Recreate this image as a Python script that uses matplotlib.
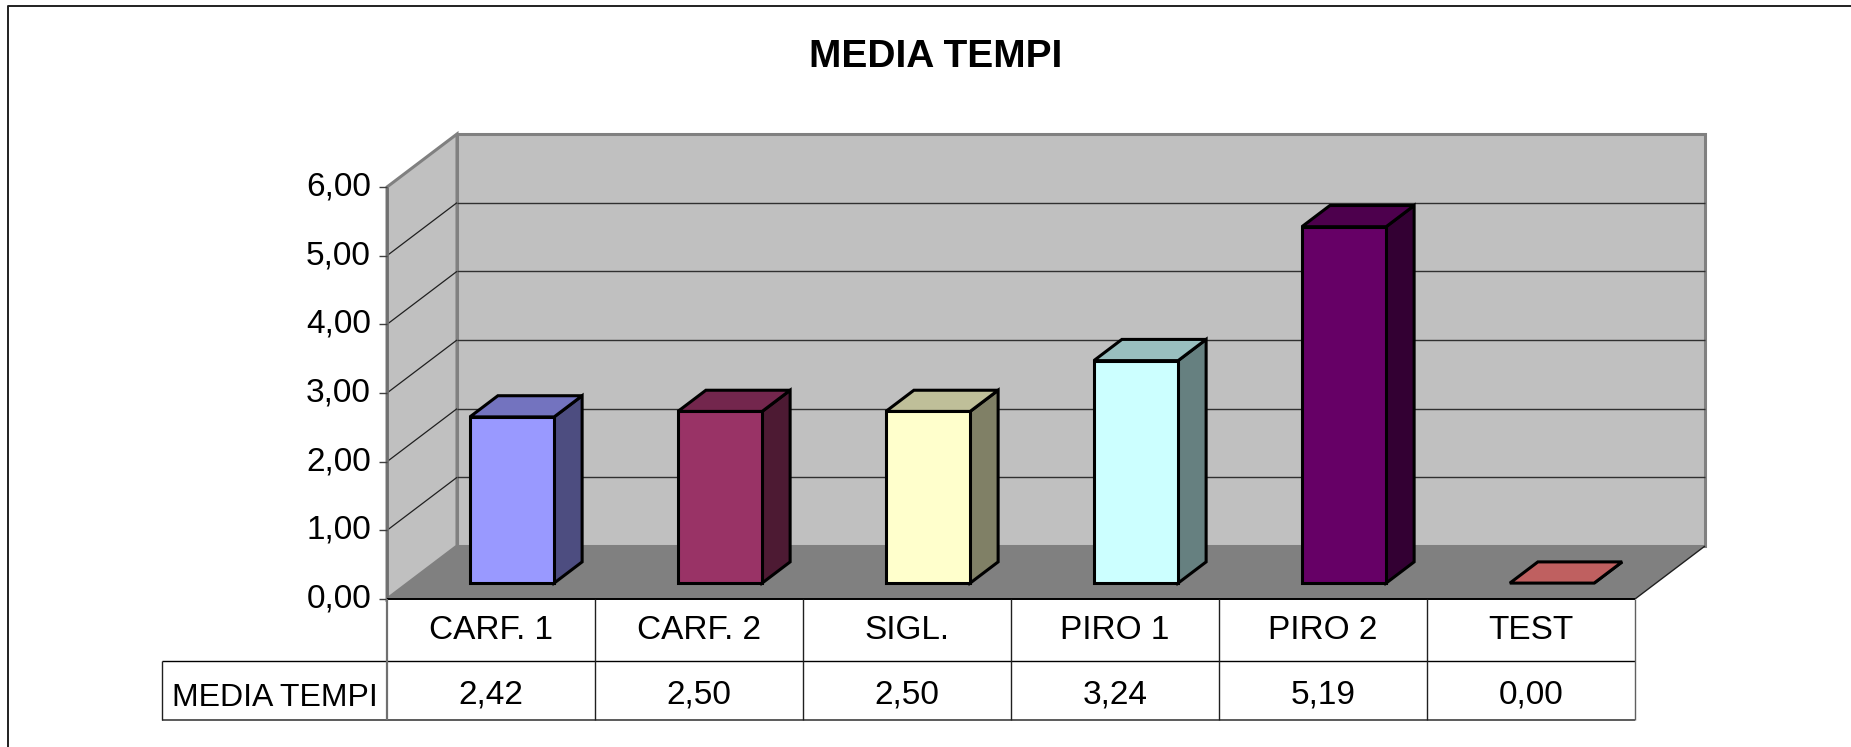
import matplotlib
matplotlib.use("Agg")
import matplotlib.pyplot as plt
from matplotlib.patches import Polygon
from matplotlib.lines import Line2D

categories = ["CARF. 1", "CARF. 2", "SIGL.", "PIRO 1", "PIRO 2", "TEST"]
values = [2.42, 2.50, 2.50, 3.24, 5.19, 0.00]
value_labels = ["2,42", "2,50", "2,50", "3,24", "5,19", "0,00"]
y_ticks = [0, 1, 2, 3, 4, 5, 6]
y_tick_labels = ["0,00", "1,00", "2,00", "3,00", "4,00", "5,00", "6,00"]
front_colors = ["#9999FF", "#993366", "#FFFFCC", "#CCFFFF", "#660066", "#FF8080"]
top_colors = ["#7373BF", "#73264D", "#BFBF99", "#99BFBF", "#4D004D", "#BF6060"]
side_colors = ["#4D4D80", "#4D1A33", "#808066", "#668080", "#330033", "#804040"]
series_name = "MEDIA TEMPI"

W, H = 1851, 747
plt.rcParams["font.family"] = ["Liberation Sans", "DejaVu Sans"]

fig = plt.figure(figsize=(W / 100, H / 100), dpi=100)
# front plane of the fake 3D box, in pixels
left, right, top, bottom = 387, 1635, 187, 599
ax = fig.add_axes([left / W, 1 - bottom / H, (right - left) / W, (bottom - top) / H])
ax.set_xlim(0, 6)
ax.set_ylim(0, 6)
ax.axis("off")

px_x = 6 / (right - left)
px_y = 6 / (bottom - top)
# depth 1 = back wall
depth_x = 70 * px_x
depth_y = 53 * px_y


def pr(x, y, d=0.0):
    return (x + d * depth_x, y + d * depth_y)


def poly(pts, face, edge="none", lw=0.0, z=1):
    ax.add_patch(Polygon(pts, closed=True, facecolor=face, edgecolor=edge, linewidth=lw,
                         joinstyle="miter", clip_on=False, zorder=z))


def line(xs, ys, color="black", lw=1.0, z=2):
    ax.plot(xs, ys, color=color, lw=lw, clip_on=False, zorder=z, solid_capstyle="butt")


# walls and floor
poly([pr(0, 0, 1), pr(6, 0, 1), pr(6, 6, 1), pr(0, 6, 1)], "#C0C0C0", "#808080", 2.2)
poly([pr(0, 0), pr(0, 0, 1), pr(0, 6, 1), pr(0, 6)], "#C0C0C0", "#808080", 2.2)
poly([pr(0, 0), pr(6, 0), pr(6, 0, 1), pr(0, 0, 1)], "#808080")

for t in y_ticks[1:-1]:
    a, b = pr(0, t, 1), pr(6, t, 1)
    line([a[0], b[0]], [a[1], b[1]], "#303030", 1.0, 3)
    c = pr(0, t)
    line([c[0], a[0]], [c[1], a[1]], "#202020", 0.9, 3)
a, b = pr(6, 0), pr(6, 0, 1)
line([a[0], b[0]], [a[1], b[1]], "#202020", 1.0, 3)

# bars
bar_w = 0.405
d0, d1 = 0.30, 0.70
for i, v in enumerate(values):
    x0 = i + 0.5 - bar_w / 2
    x1 = i + 0.5 + bar_w / 2
    z = 5 + i
    poly([pr(x1, 0, d0), pr(x1, 0, d1), pr(x1, v, d1), pr(x1, v, d0)], side_colors[i], "black", 2.2, z)
    poly([pr(x0, v, d0), pr(x1, v, d0), pr(x1, v, d1), pr(x0, v, d1)], top_colors[i], "black", 2.2, z)
    if v > 0:
        poly([pr(x0, 0, d0), pr(x1, 0, d0), pr(x1, v, d0), pr(x0, v, d0)], front_colors[i], "black", 2.2, z)

# value axis
line([0, 0], [0, 6], "#707070", 2.0, 4)
for t, lab in zip(y_ticks, y_tick_labels):
    line([-8 * px_x, 0], [t, t], "#404040", 1.0, 4)
    ax.text(-16 * px_x, t - 8.5 * px_y, lab, ha="right", va="baseline", fontsize=24, color="black")

# data table under the chart
row1 = -62 * px_y
row2 = -121 * px_y
head_x = -225 * px_x
line([0, 6], [0, 0], "black", 1.4, 4)
line([head_x, 6], [row1, row1], "black", 1.0, 4)
line([head_x, 6], [row2, row2], "#404040", 1.2, 4)
line([head_x, head_x], [row1, row2], "#202020", 1.0, 4)
line([0, 0], [0, row2], "#707070", 1.6, 4)
for i in range(1, 7):
    line([i, i], [0, row2], "#202020" if i < 6 else "#606060", 1.0, 4)
for i, (cat, lab) in enumerate(zip(categories, value_labels)):
    ax.text(i + 0.5, -40 * px_y, cat, ha="center", va="baseline", fontsize=24)
    ax.text(i + 0.5, -104 * px_y, lab, ha="center", va="baseline", fontsize=24)
ax.text(head_x / 2, -107 * px_y, series_name, ha="center", va="baseline", fontsize=23)

# title and chart frame (only the top and left edges fall inside the picture)
fig.text(936 / W, 1 - 67 / H, series_name, ha="center", va="baseline", fontsize=28, fontweight="bold")
frame_x, frame_y = 8 / W, 1 - 5.5 / H
fig.add_artist(Line2D([frame_x, frame_x, 1], [0, frame_y, frame_y], transform=fig.transFigure,
                      color="#202020", lw=1.4))

fig.savefig("out.png", dpi=100, facecolor="white")
